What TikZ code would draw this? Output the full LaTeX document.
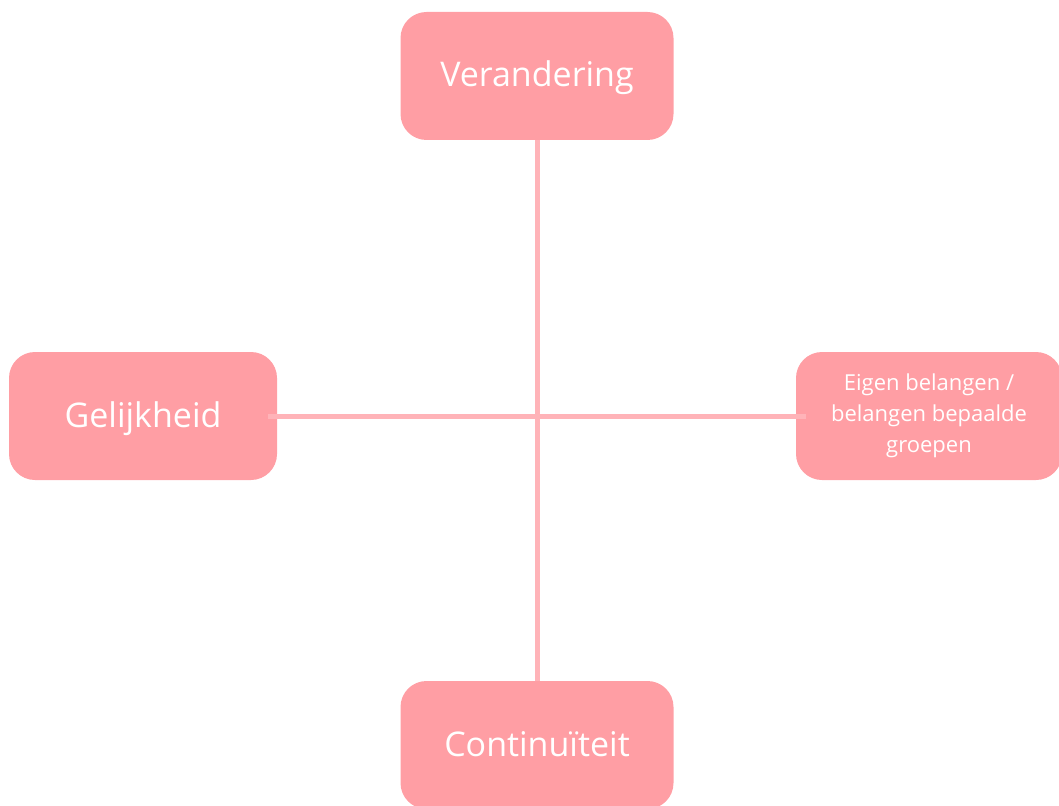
\documentclass[tikz,border=0pt]{standalone}
\usepackage{fontspec}
\setmainfont{Open Sans}
\usetikzlibrary{%
  calc,%
  positioning%
}
\definecolor{boxpink}{HTML}{FF9EA4}
\definecolor{linepink}{HTML}{FFB3B8}
\tikzset{
  theme/.style={draw=none,fill=boxpink,rounded corners=26pt,text=white,
    minimum height=128pt,align=center,inner sep=0pt},
  big label/.style={font=\fontsize{34}{40}\selectfont,text height=28pt,text depth=6pt},
  axis line/.style={draw=linepink,line width=5pt}
}

\begin{document}
\begin{tikzpicture}[x=1pt,y=-1pt]
      \useasboundingbox (0,0) rectangle (1059,805);
      \node[theme,big label,minimum width=273pt]
        (verandering) at (537,76) {Verandering};
      \node[theme,big label,minimum width=273pt]
        (continuiteit) at (537,745) {Continuïteit};
      \node[theme,big label,minimum width=268pt]
        (gelijkheid) at (143,416) {Gelijkheid};
      \node[theme,minimum width=266pt,font=\fontsize{22}{31}\selectfont]
        (belangen) at (929,416) {Eigen belangen /\\belangen bepaalde\\groepen};
      \coordinate (links) at ($(gelijkheid.east)+(-9,0)$);
      \coordinate (rechts) at ($(belangen.west)+(10,0)$);
      \draw[axis line] (verandering.south) -- (continuiteit.north);
      \draw[axis line] (links) -- (rechts);
    \end{tikzpicture}
\end{document}
